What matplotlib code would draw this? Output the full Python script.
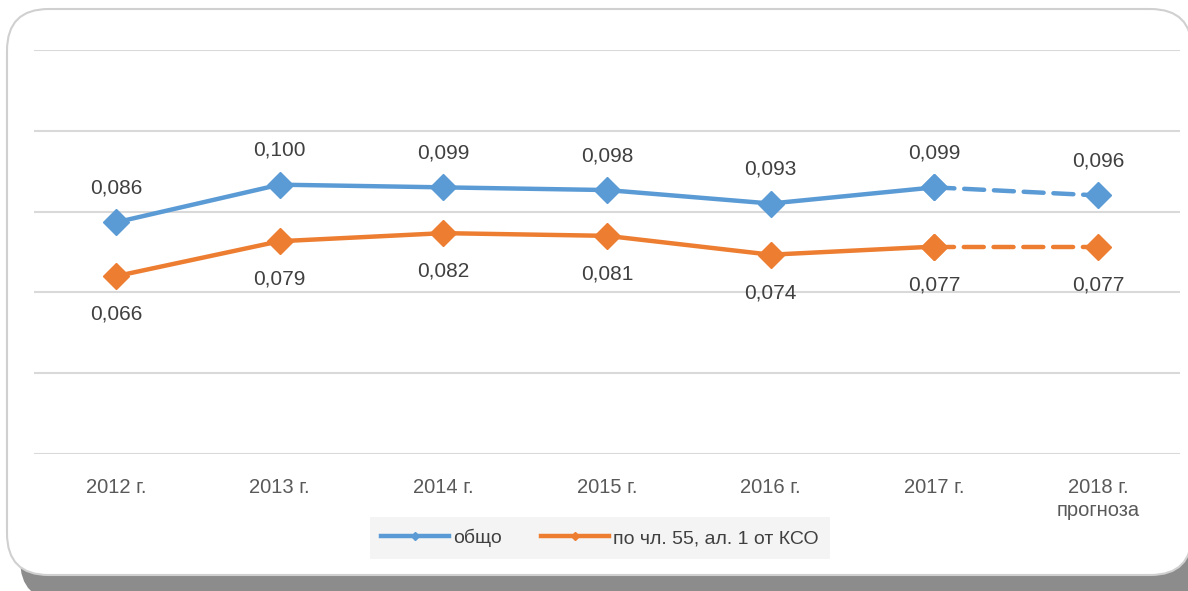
import matplotlib.pyplot as plt
from matplotlib.patches import FancyBboxPatch
from matplotlib.lines import Line2D

plt.rcParams['font.family'] = ['Liberation Sans Narrow', 'Liberation Sans', 'DejaVu Sans']

categories = ['2012 г.', '2013 г.', '2014 г.', '2015 г.', '2016 г.', '2017 г.', '2018 г.\nпрогноза']
obshto = [0.086, 0.100, 0.099, 0.098, 0.093, 0.099, 0.096]
po_chl55 = [0.066, 0.079, 0.082, 0.081, 0.074, 0.077, 0.077]
labels = ['общо', 'по чл. 55, ал. 1 от КСО']

blue = '#5B9BD5'
orange = '#ED7D31'

fig = plt.figure(figsize=(11.88, 5.91), dpi=100)

# frame with shadow (the right edge runs off the picture)
shadow = FancyBboxPatch((20 / 1188, -10 / 591), 1180 / 1188, 580 / 591,
                        boxstyle='round,pad=0,rounding_size=0.035',
                        transform=fig.transFigure, fc='#8c8c8c', ec='none',
                        mutation_aspect=1188 / 591, zorder=0)
frame = FancyBboxPatch((7 / 1188, 16 / 591), 1185 / 1188, 566 / 591,
                       boxstyle='round,pad=0,rounding_size=0.035',
                       transform=fig.transFigure, fc='white', ec='#d0d0d0', lw=1.5,
                       mutation_aspect=1188 / 591, zorder=1)
fig.patches.extend([shadow, frame])

ax = fig.add_axes([34 / 1188, 137 / 591, 1146 / 1188, 404 / 591])
ax.set_facecolor('none')
ax.set_zorder(2)

x = list(range(len(categories)))
for vals, col in [(obshto, blue), (po_chl55, orange)]:
    ax.plot(x[:6], vals[:6], color=col, lw=3.2, marker='D', ms=13, zorder=3)
    ax.plot(x[5:], vals[5:], color=col, lw=3.2, ls=(0, (4.5, 2.2)), dash_capstyle='round',
            marker='D', ms=13, zorder=3)

for i in x:
    ax.text(i, obshto[i] + 0.0128, f'{obshto[i]:.3f}'.replace('.', ','), ha='center', va='center',
            fontsize=15, color='#404040')
    ax.text(i, po_chl55[i] - 0.0142, f'{po_chl55[i]:.3f}'.replace('.', ','), ha='center', va='center',
            fontsize=15, color='#404040')

ax.set_ylim(0, 0.15)
ax.set_xlim(-0.5, 6.5)
ax.set_yticks([0, 0.03, 0.06, 0.09, 0.12, 0.15])
ax.yaxis.grid(True, color='#d9d9d9', lw=1.5)
ax.set_yticklabels([])
ax.tick_params(axis='y', length=0)
ax.tick_params(axis='x', length=0, pad=17, labelsize=14.5, labelcolor='#595959')
ax.set_xticks(x)
ax.set_xticklabels(categories, linespacing=1.3)
ax.set_axisbelow(True)
for s in ax.spines.values():
    s.set_visible(False)

handles = [Line2D([], [], color=blue, lw=3.2, marker='D', ms=4),
           Line2D([], [], color=orange, lw=3.2, marker='D', ms=4)]
leg = fig.legend(handles, labels, loc='center', bbox_to_anchor=(600 / 1188, 1 - 538 / 591),
                 ncol=2, frameon=True, fontsize=14, handlelength=3.5, handletextpad=0.2,
                 columnspacing=2.0, fancybox=False, borderpad=0.6)
leg.get_frame().set_facecolor('#f2f2f2')
leg.get_frame().set_edgecolor('none')
for t in leg.get_texts():
    t.set_color('#404040')

fig.savefig('out.png', dpi=100)
